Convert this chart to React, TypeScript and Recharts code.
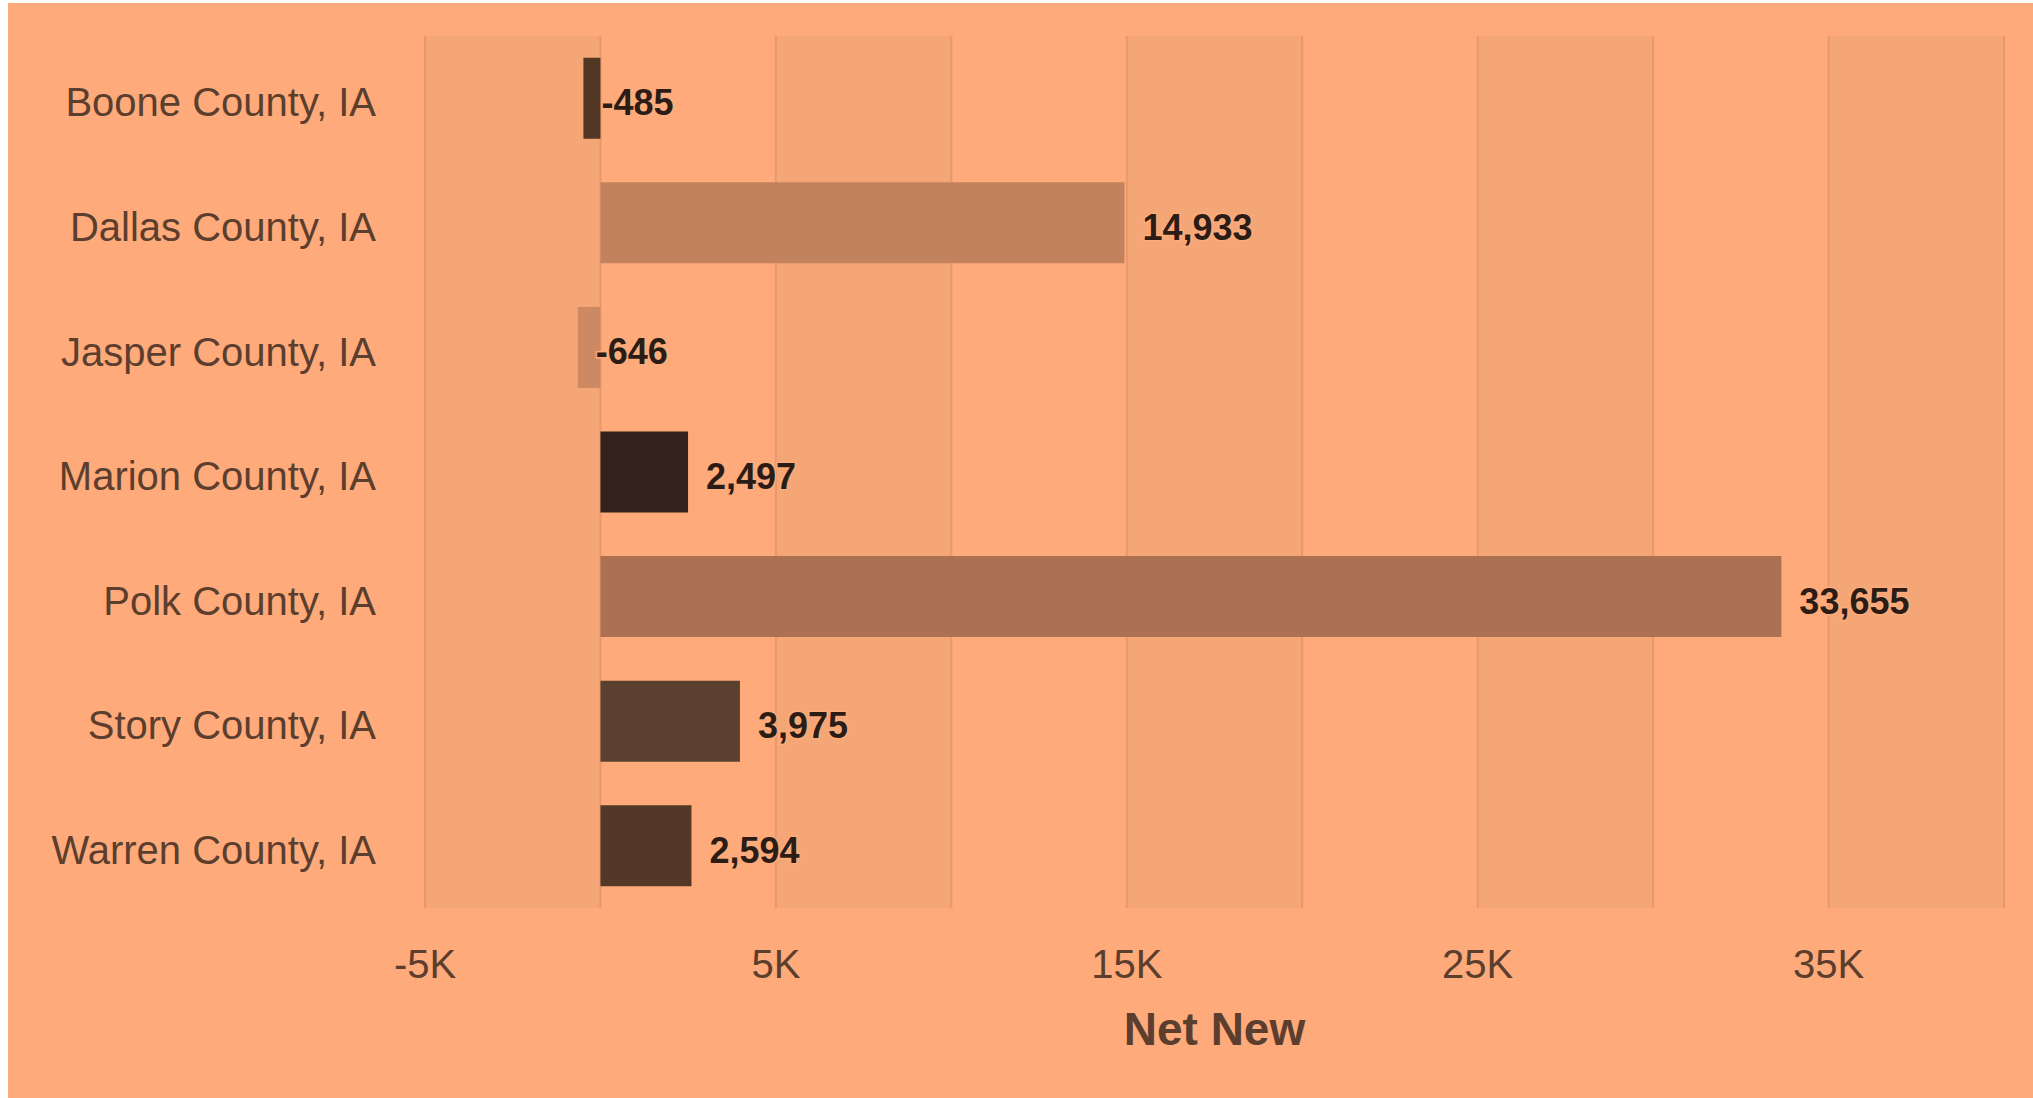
import { BarChart, Bar, XAxis, YAxis, CartesianGrid, Cell, LabelList, Label } from 'recharts'

const counties = [
  'Boone County, IA',
  'Dallas County, IA',
  'Jasper County, IA',
  'Marion County, IA',
  'Polk County, IA',
  'Story County, IA',
  'Warren County, IA',
]

const netNew = [-485, 14933, -646, 2497, 33655, 3975, 2594]

const xTicks = [-5000, 0, 5000, 10000, 15000, 20000, 25000, 30000, 35000, 40000]
const xTickLabels = ['-5K', '', '5K', '', '15K', '', '25K', '', '35K', '']

const barColors = ['#533725', '#c2825e', '#cd8962', '#33221b', '#ab7152', '#5b3f2f', '#533828']

const BG = '#ffaa7a'
const TEXT = '#5b3e2e'
const FONT = '"Liberation Sans", Arial, sans-serif'

const rows = counties.map((county, i) => ({ county, value: netNew[i] }))

// label sits 18px past the end of the bar that carries the value
function ValueLabel(props: any) {
  const vb = props.viewBox ?? props
  const x = Number(vb.x)
  const w = Number(vb.width)
  const y = Number(vb.y)
  const h = Number(vb.height)
  const value = Number(props.value)
  const end = value < 0 ? Math.min(x, x + w) : Math.max(x, x + w)
  return (
    <text
      x={end + 18}
      y={y + h / 2 + 17}
      textAnchor="start"
      fill="#2b1d16"
      stroke={BG}
      strokeWidth={3}
      paintOrder="stroke"
      fontFamily={FONT}
      fontWeight="bold"
      fontSize={36}
    >
      {value.toLocaleString('en-US')}
    </text>
  )
}

export default function App() {
  return (
    <div style={{ position: 'fixed', left: 8, top: 3, width: 2025, height: 1095, background: BG }}>
      <BarChart
        width={2025}
        height={1095}
        data={rows}
        layout="vertical"
        margin={{ top: 33, right: 29, bottom: 0, left: 0 }}
        barCategoryGap="17.5%"
      >
        <CartesianGrid
          horizontal={false}
          stroke="#e8986c"
          strokeWidth={2}
          verticalFill={['#f5a676', BG]}
        />
        <XAxis
          type="number"
          domain={[-5000, 40000]}
          ticks={xTicks}
          interval={0}
          tickFormatter={(v: number) => xTickLabels[xTicks.indexOf(v)] ?? ''}
          axisLine={false}
          tickLine={false}
          tickSize={0}
          tickMargin={42}
          height={190}
          tick={{ fill: TEXT, fontSize: 40, fontFamily: FONT }}
        >
          <Label
            value="Net New"
            position="insideBottom"
            offset={53}
            fill={TEXT}
            fontSize={46}
            fontWeight="bold"
            fontFamily={FONT}
          />
        </XAxis>
        <YAxis
          type="category"
          dataKey="county"
          width={417}
          axisLine={false}
          tickLine={false}
          tickSize={0}
          tickMargin={49}
          tick={{ fill: TEXT, fontSize: 40, fontFamily: FONT, dy: 4 }}
        />
        <Bar dataKey="value" isAnimationActive={false}>
          {rows.map((r, i) => (
            <Cell key={r.county} fill={barColors[i]} />
          ))}
          <LabelList dataKey="value" content={ValueLabel} />
        </Bar>
      </BarChart>
    </div>
  )
}
